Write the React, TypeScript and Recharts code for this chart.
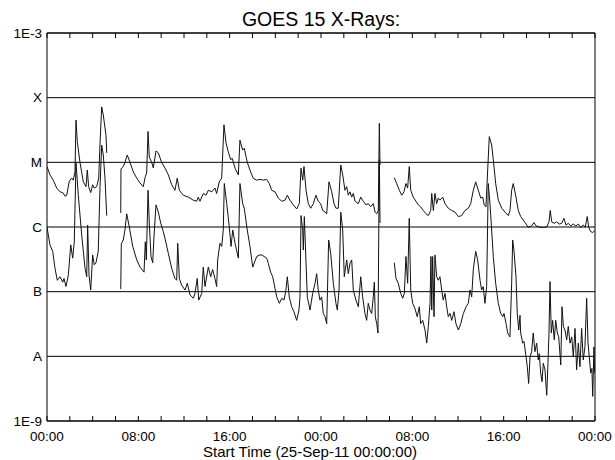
import React from 'react';
import { LineChart, Line, XAxis, YAxis, CartesianGrid, ReferenceArea } from 'recharts';

// time in hours from 25-Sep-11 00:00, flux in W/m^2
const longSeg1: [number, number][] = [
  [0, 8.6e-6], [0.26, 6.4e-6], [0.55, 5.3e-6], [0.85, 4.0e-6], [1.14, 3.5e-6], [1.38, 3.4e-6],
  [1.58, 3.0e-6], [1.73, 3.1e-6], [1.95, 5.1e-6], [2.16, 5.7e-6], [2.3, 5.3e-6], [2.45, 7.1e-6],
  [2.54, 4.5e-5], [2.65, 2.1e-5], [2.89, 1.0e-5], [3.18, 5.0e-6], [3.42, 4.2e-6], [3.53, 7.6e-6],
  [3.65, 4.2e-6], [3.83, 3.4e-6], [4.0, 4.5e-6], [4.14, 4.0e-6], [4.35, 4.2e-6], [4.53, 5.7e-6],
  [4.64, 1.85e-5], [4.79, 7.2e-5], [4.93, 5.4e-5], [5.17, 2.6e-5], [5.23, 1.4e-5],
];
const longSeg2: [number, number][] = [
  [6.46, 1.65e-6], [6.48, 7.9e-6], [6.68, 8.6e-6], [6.83, 1.0e-5], [7.03, 1.3e-5], [7.27, 1.0e-5],
  [7.56, 7.1e-6], [7.86, 5.7e-6], [8.15, 4.8e-6], [8.43, 4.2e-6], [8.61, 6.0e-6], [8.73, 6.85e-6],
  [8.85, 3.0e-5], [8.96, 1.2e-5], [9.17, 1.0e-5], [9.31, 8.2e-6], [9.55, 1.5e-5], [9.75, 1.4e-5],
  [10.04, 1.0e-5], [10.33, 8.2e-6], [10.63, 6.4e-6], [10.92, 4.5e-6], [11.21, 3.7e-6], [11.41, 5.7e-6],
  [11.59, 3.7e-6], [11.94, 3.1e-6], [12.38, 2.9e-6], [12.81, 2.6e-6], [13.11, 2.5e-6], [13.25, 2.9e-6],
  [13.4, 2.5e-6], [13.69, 3.3e-6], [13.93, 3.1e-6], [14.13, 3.7e-6], [14.43, 3.5e-6], [14.71, 4.0e-6],
  [14.86, 3.3e-6], [15.09, 5.0e-6], [15.3, 5.7e-6], [15.5, 3.8e-5], [15.68, 2.0e-5], [15.88, 1.45e-5],
  [16.09, 1.1e-5], [16.23, 1.15e-5], [16.47, 8.1e-6], [16.76, 6.4e-6], [16.9, 2.2e-5], [17.14, 1.55e-5],
  [17.28, 1.65e-5], [17.54, 1.0e-5], [17.84, 7.1e-6], [18.07, 5.65e-6], [18.37, 5.3e-6], [18.66, 5.45e-6],
  [18.95, 5.3e-6], [19.24, 5.45e-6], [19.47, 4.7e-6], [19.68, 3.7e-6], [19.97, 3.5e-6], [20.26, 2.8e-6],
  [20.56, 2.5e-6], [20.85, 2.6e-6], [21.05, 3.1e-6], [21.28, 2.6e-6], [21.57, 2.2e-6], [21.87, 1.9e-6],
  [22.1, 2.3e-6], [22.25, 8.1e-6], [22.4, 5.3e-6], [22.51, 8.6e-6], [22.69, 3.7e-6], [22.89, 2.3e-6],
  [23.1, 1.95e-6], [23.33, 2.3e-6], [23.56, 3.1e-6], [23.76, 2.5e-6], [23.97, 2.3e-6], [24.15, 1.8e-6],
  [24.35, 1.7e-6], [24.5, 1.6e-6], [24.7, 5.0e-6], [24.94, 3.5e-6], [25.14, 2.3e-6], [25.31, 1.95e-6],
  [25.51, 1.95e-6], [25.73, 9.1e-6], [25.9, 6.4e-6], [26.1, 3.7e-6], [26.25, 4.2e-6], [26.39, 3.1e-6],
  [26.54, 3.5e-6], [26.69, 2.9e-6], [26.83, 3.3e-6], [26.98, 2.5e-6], [27.27, 2.3e-6], [27.48, 2.9e-6],
  [27.7, 2.5e-6], [27.94, 2.2e-6], [28.14, 2.3e-6], [28.35, 2.05e-6], [28.58, 2.3e-6], [28.73, 1.7e-6],
  [28.88, 1.6e-6], [29.02, 1.8e-6], [29.11, 4.0e-5], [29.17, 9.1e-6],
];
const longSeg3: [number, number][] = [
  [30.42, 5.8e-6], [30.63, 4.7e-6], [30.86, 3.7e-6], [31.07, 3.1e-6], [31.27, 3.5e-6], [31.44, 4.7e-6],
  [31.59, 4.0e-6], [31.73, 8.6e-6], [31.86, 3.7e-6], [32.08, 2.9e-6], [32.32, 2.5e-6], [32.52, 2.2e-6],
  [32.73, 2.05e-6], [32.96, 1.8e-6], [33.2, 1.6e-6], [33.4, 1.5e-6], [33.61, 1.8e-6], [33.7, 3.3e-6],
  [33.84, 1.8e-6], [33.98, 3.3e-6], [34.13, 2.3e-6], [34.27, 2.8e-6], [34.42, 2.6e-6], [34.66, 2.9e-6],
  [34.86, 2.3e-6], [35.15, 1.95e-6], [35.45, 1.8e-6], [35.74, 1.7e-6], [36.03, 1.45e-6], [36.32, 1.5e-6],
  [36.61, 1.8e-6], [36.9, 1.95e-6], [37.11, 2.3e-6], [37.34, 3.7e-6], [37.55, 5.0e-6], [37.78, 3.7e-6],
  [37.99, 2.8e-6], [38.16, 2.9e-6], [38.3, 2.2e-6], [38.45, 2.05e-6], [38.6, 7.6e-6], [38.74, 2.5e-5],
  [38.95, 1.85e-5], [39.09, 1.1e-5], [39.3, 4.7e-6], [39.53, 2.6e-6], [39.83, 1.95e-6], [40.12, 1.7e-6],
  [40.41, 1.5e-6], [40.55, 1.8e-6], [40.7, 3.7e-6], [40.84, 4.7e-6], [41.08, 2.9e-6], [41.28, 1.8e-6],
  [41.49, 1.45e-6], [41.72, 1.28e-6], [41.87, 1.17e-6], [42.16, 9.9e-7], [42.45, 1.04e-6], [42.65, 1.17e-6],
  [42.83, 1.04e-6], [43.12, 1.0e-6], [43.47, 9.8e-7], [43.77, 1.0e-6], [43.97, 1.2e-6], [44.08, 1.8e-6],
  [44.21, 1.2e-6], [44.41, 1.14e-6], [44.64, 1.2e-6], [44.87, 1.11e-6], [45.08, 1.14e-6], [45.28, 1.36e-6],
  [45.46, 1.07e-6], [45.66, 1.14e-6], [45.87, 1.04e-6], [46.1, 1.11e-6], [46.33, 1.04e-6], [46.54, 1.11e-6],
  [46.75, 9.9e-7], [46.97, 1.07e-6], [47.15, 1.0e-6], [47.32, 1.45e-6], [47.45, 9.9e-7], [47.62, 8.5e-7],
  [47.8, 8.2e-7], [47.97, 8.8e-7],
];

const shortSeg1: [number, number][] = [
  [0, 1.0e-6], [0.26, 5.3e-7], [0.5, 4.2e-7], [0.7, 2.3e-7], [0.9, 1.5e-7], [1.14, 1.7e-7],
  [1.38, 1.4e-7], [1.49, 1.6e-7], [1.66, 1.2e-7], [1.87, 1.8e-7], [2.08, 5.3e-7], [2.25, 3.3e-7],
  [2.39, 5.9e-7], [2.54, 1.0e-5], [2.74, 3.1e-6], [3.04, 7.5e-7], [3.33, 2.3e-7], [3.48, 1.7e-7],
  [3.56, 1.07e-6], [3.68, 1.8e-7], [3.83, 1.06e-7], [4.0, 3.7e-7], [4.14, 2.6e-7], [4.29, 2.8e-7],
  [4.49, 4.2e-7], [4.64, 4.0e-6], [4.79, 1.85e-5], [4.93, 1.3e-5], [5.08, 5.7e-6], [5.23, 1.5e-6],
];
const shortSeg2: [number, number][] = [
  [6.46, 1.1e-7], [6.51, 5.5e-7], [6.68, 6.3e-7], [6.83, 9.0e-7], [6.98, 1.6e-6], [7.21, 1.0e-6],
  [7.51, 5.0e-7], [7.86, 3.1e-7], [8.15, 2.4e-7], [8.5, 2.0e-7], [8.61, 5.9e-7], [8.7, 3.1e-7],
  [8.85, 3.7e-6], [8.96, 1.15e-6], [9.11, 3.5e-7], [9.26, 2.8e-7], [9.37, 7.1e-7], [9.55, 2.2e-6],
  [9.75, 1.7e-6], [9.96, 1.15e-6], [10.19, 8.5e-7], [10.33, 6.7e-7], [10.63, 3.9e-7], [10.92, 2.3e-7],
  [11.21, 1.6e-7], [11.36, 1.5e-7], [11.45, 5.6e-7], [11.59, 1.6e-7], [11.79, 1.27e-7], [12.09, 1.06e-7],
  [12.29, 1.35e-7], [12.53, 8.9e-8], [12.82, 7.9e-8], [12.96, 9.4e-8], [13.16, 1.6e-7], [13.29, 7.4e-8],
  [13.55, 9.4e-8], [13.69, 2.4e-7], [13.84, 1.2e-7], [14.13, 2.4e-7], [14.34, 1.7e-7], [14.51, 2.2e-7],
  [14.71, 1.6e-7], [14.86, 1.2e-7], [14.95, 3.1e-7], [15.15, 5.6e-7], [15.3, 5.0e-7], [15.44, 9.0e-7],
  [15.53, 4.7e-6], [15.74, 2.3e-6], [15.97, 1.0e-6], [16.12, 5.0e-7], [16.27, 9.0e-7], [16.47, 5.6e-7],
  [16.76, 3.3e-7], [16.9, 4.7e-6], [17.14, 2.3e-6], [17.28, 1.95e-6], [17.54, 9.0e-7], [17.78, 5.0e-7],
  [18.02, 2.4e-7], [18.37, 3.5e-7], [18.66, 3.7e-7], [18.81, 3.7e-7], [19.01, 3.5e-7], [19.24, 3.3e-7],
  [19.38, 2.75e-7], [19.59, 2.0e-7], [19.77, 1.7e-7], [19.97, 1.13e-7], [20.12, 8.3e-8], [20.35, 6.6e-8],
  [20.56, 7.9e-8], [20.76, 7.4e-8], [20.93, 1.06e-7], [21.05, 1.7e-7], [21.22, 8.3e-8], [21.43, 5.85e-8],
  [21.63, 4.9e-8], [21.87, 3.6e-8], [22.07, 5.2e-8], [22.16, 8.3e-8], [22.25, 1.5e-6], [22.4, 9.0e-7],
  [22.45, 4.4e-7], [22.54, 1.45e-6], [22.69, 2.75e-7], [22.8, 8.3e-8], [23.04, 5.2e-8], [23.27, 9.4e-8],
  [23.48, 1.35e-7], [23.62, 1.9e-7], [23.76, 1.06e-7], [23.91, 7.4e-8], [24.06, 8.3e-8], [24.2, 4.6e-8],
  [24.35, 4.1e-8], [24.5, 3.2e-8], [24.67, 6.3e-7], [24.85, 3.9e-7], [25.08, 1.35e-7], [25.31, 6.6e-8],
  [25.43, 5.2e-8], [25.58, 1.06e-7], [25.73, 1.7e-6], [25.9, 9.0e-7], [26.04, 1.7e-7], [26.25, 3.1e-7],
  [26.39, 1.9e-7], [26.54, 2.75e-7], [26.69, 3.1e-7], [26.83, 1.06e-7], [27.06, 7.4e-8], [27.27, 5.85e-8],
  [27.48, 1.7e-7], [27.65, 8.3e-8], [27.85, 4.6e-8], [28.0, 3.6e-8], [28.14, 6.6e-8], [28.29, 5.2e-8],
  [28.44, 4.6e-8], [28.58, 8.3e-8], [28.67, 1.4e-7], [28.76, 4.1e-8], [28.88, 3.2e-8], [28.99, 2.3e-8],
  [29.11, 1.1e-5], [29.17, 1.15e-6],
];
const shortSeg3: [number, number][] = [
  [30.42, 2.8e-7], [30.57, 1.6e-7], [30.77, 1.35e-7], [30.98, 9.4e-8], [31.16, 7.9e-8], [31.3, 9.4e-8],
  [31.44, 3.5e-7], [31.59, 1.35e-7], [31.73, 1.36e-6], [31.86, 1.06e-7], [32.03, 6.6e-8], [32.23, 5.5e-8],
  [32.43, 4.1e-8], [32.61, 5.85e-8], [32.73, 3.2e-8], [32.91, 3.6e-8], [33.11, 2.55e-8], [33.26, 1.6e-8],
  [33.4, 2.9e-8], [33.55, 6.6e-8], [33.63, 3.5e-7], [33.7, 5.2e-8], [33.78, 3.5e-7], [33.9, 4.1e-8],
  [33.98, 3.7e-7], [34.13, 1.7e-7], [34.27, 1.5e-7], [34.42, 1.7e-7], [34.57, 1.06e-7], [34.71, 7.4e-8],
  [34.86, 9.4e-8], [35.01, 5.85e-8], [35.15, 4.1e-8], [35.3, 4.6e-8], [35.45, 3.6e-8], [35.65, 4.9e-8],
  [35.82, 3.2e-8], [36.03, 2.55e-8], [36.24, 3.2e-8], [36.47, 4.6e-8], [36.71, 5.85e-8], [36.9, 6.6e-8],
  [37.05, 1.06e-7], [37.2, 8.3e-8], [37.34, 2.2e-7], [37.55, 4.2e-7], [37.72, 3.1e-7], [37.93, 1.5e-7],
  [38.07, 1.06e-7], [38.21, 1.2e-7], [38.36, 6.6e-8], [38.51, 1.2e-7], [38.65, 4.7e-6], [38.8, 2.3e-6],
  [38.95, 9.0e-7], [39.09, 3.5e-7], [39.3, 1.35e-7], [39.53, 6.6e-8], [39.74, 4.6e-8], [39.92, 4.1e-8],
  [40.03, 4.6e-8], [40.21, 3.2e-8], [40.35, 2.3e-8], [40.55, 2.0e-8], [40.7, 1.35e-7], [40.79, 6.3e-7],
  [40.9, 4.4e-7], [41.08, 1.7e-7], [41.19, 4.6e-8], [41.32, 2.55e-8], [41.43, 4.3e-8], [41.49, 2.3e-8],
  [41.67, 1.6e-8], [41.78, 1.7e-8], [41.96, 9.9e-9], [42.07, 6.9e-9], [42.19, 3.8e-9], [42.31, 9.9e-9],
  [42.45, 1.18e-8], [42.59, 2.3e-8], [42.74, 1.18e-8], [42.89, 1.6e-8], [43.03, 8.8e-9], [43.12, 1.1e-8],
  [43.24, 5.5e-9], [43.36, 4.05e-9], [43.47, 7.8e-9], [43.62, 6.2e-9], [43.77, 2.5e-9], [43.88, 7.8e-9],
  [43.97, 2.3e-8], [44.06, 1.43e-7], [44.17, 2.3e-8], [44.29, 3.6e-8], [44.43, 1.8e-8], [44.56, 3.6e-8],
  [44.7, 2.3e-8], [44.82, 2.0e-8], [45.0, 7.35e-9], [45.11, 5.85e-8], [45.23, 2.9e-8], [45.37, 2.55e-8],
  [45.52, 1.8e-8], [45.66, 2.9e-8], [45.81, 1.6e-8], [45.96, 2.0e-8], [46.1, 9.9e-9], [46.25, 2.7e-8],
  [46.39, 6.2e-9], [46.54, 1.6e-8], [46.68, 6.9e-9], [46.83, 2.7e-8], [46.97, 8.8e-9], [47.12, 1.4e-8],
  [47.27, 7.9e-8], [47.39, 1.6e-8], [47.5, 9.9e-9], [47.62, 5.5e-9], [47.73, 6.5e-9], [47.8, 2.4e-9],
  [47.91, 1.4e-8], [47.97, 5.5e-9],
];

const xTicks = [0, 2, 4, 6, 8, 10, 12, 14, 16, 18, 20, 22, 24, 26, 28, 30, 32, 34, 36, 38, 40, 42, 44, 46, 48];
const xTickLabels: Record<number, string> = {
  0: '00:00', 8: '08:00', 16: '16:00', 24: '00:00', 32: '08:00', 40: '16:00', 48: '00:00',
};
const yTicks = [1e-9, 1e-8, 1e-7, 1e-6, 1e-5, 1e-4, 1e-3];
const yTickLabels = ['1E-9', 'A', 'B', 'C', 'M', 'X', '1E-3'];

const title = 'GOES 15 X-Rays:';
const xTitle = 'Start Time (25-Sep-11 00:00:00)';

type Pt = { t: number; v: number | null };
function joinSegments(segs: [number, number][][]): Pt[] {
  const out: Pt[] = [];
  segs.forEach((seg, i) => {
    if (i > 0) {
      const prev = segs[i - 1];
      out.push({ t: (prev[prev.length - 1][0] + seg[0][0]) / 2, v: null });
    }
    seg.forEach(([t, v]) => out.push({ t, v }));
  });
  return out;
}

const longData = joinSegments([longSeg1, longSeg2, longSeg3]);
const shortData = joinSegments([shortSeg1, shortSeg2, shortSeg3]);

const FONT = '"Liberation Sans", Arial, Helvetica, sans-serif';
const PLOT_H = 388;

const BottomTick = (props: any) => {
  const { x, y, payload } = props;
  const label = xTickLabels[payload.value];
  return (
    <g>
      <line x1={x} y1={y} x2={x} y2={y - 5} stroke="#000" strokeWidth={1} />
      <line x1={x} y1={y - PLOT_H} x2={x} y2={y - PLOT_H + 5} stroke="#000" strokeWidth={1} />
      {label ? (
        <text x={x} y={y + 20} textAnchor="middle" fontSize={13.5} fill="#000" fontFamily={FONT}>
          {label}
        </text>
      ) : null}
    </g>
  );
};

const yFormatter = (v: number) => {
  const i = yTicks.findIndex((t) => Math.abs(Math.log10(t) - Math.log10(v)) < 0.01);
  return i >= 0 ? yTickLabels[i] : '';
};

export default function App() {
  return (
    <div style={{ position: 'absolute', left: 0, top: 0, width: 615, height: 460, background: '#fff', fontFamily: FONT }}>
      <div style={{ position: 'absolute', left: 47, width: 548, top: 8, textAlign: 'center', fontSize: 19.5, lineHeight: '22px', color: '#000' }}>
        {title}
      </div>
      <LineChart width={615} height={460} margin={{ top: 33, right: 20, bottom: 0, left: 0 }}>
        <CartesianGrid vertical={false} stroke="#000" strokeOpacity={1} yAxisId="y" xAxisId="b" />
        <XAxis
          xAxisId="b"
          type="number"
          dataKey="t"
          domain={[0, 48]}
          ticks={xTicks}
          interval={0}
          height={39}
          tickSize={0}
          tickMargin={0}
          tickLine={false}
          axisLine={false}
          tick={<BottomTick />}
          allowDataOverflow
        />
        <YAxis
          yAxisId="y"
          type="number"
          scale="log"
          domain={[1e-9, 1e-3]}
          ticks={yTicks}
          interval={0}
          width={47}
          tickSize={0}
          tickMargin={5}
          tickLine={false}
          axisLine={false}
          tickFormatter={yFormatter}
          tick={{ fill: '#000', fontSize: 13.5, fontFamily: FONT }}
          allowDataOverflow
        />
        <ReferenceArea xAxisId="b" yAxisId="y" x1={0} x2={48} y1={1e-9} y2={1e-3} fill="none" stroke="#000" strokeWidth={1} ifOverflow="visible" />
        <Line xAxisId="b" yAxisId="y" data={longData} dataKey="v" type="linear" dot={false} stroke="#111" strokeWidth={1} connectNulls={false} isAnimationActive={false} />
        <Line xAxisId="b" yAxisId="y" data={shortData} dataKey="v" type="linear" dot={false} stroke="#111" strokeWidth={1} connectNulls={false} isAnimationActive={false} />
      </LineChart>
      <div style={{ position: 'absolute', left: 0, width: 620, top: 443, textAlign: 'center', fontSize: 15, lineHeight: '17px', color: '#000' }}>
        {xTitle}
      </div>
    </div>
  );
}
